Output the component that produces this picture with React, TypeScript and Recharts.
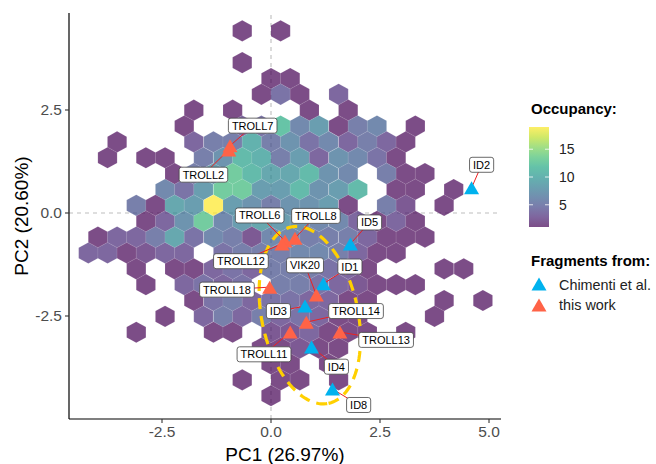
import React from 'react';
import { ScatterChart, Scatter, XAxis, YAxis, ReferenceLine } from 'recharts';

// ---------------- data ----------------
// hexbin cells (occupancy counts), one entry per hex row
const hexRowY = [4.42, 3.65, 3.265, 2.88, 2.495, 2.11, 1.725, 1.34, 0.955, 0.57, 0.185, -0.2, -0.585, -0.97, -1.355, -1.74, -2.125, -2.51, -2.895, -3.28, -3.665, -4.05, -4.435];
const hexRowX = [
  [-0.66, 0.22],
  [-0.66],
  [0.0, 0.44],
  [-0.22, 0.22, 0.66, 1.55],
  [-1.77, -0.88, 0.88, 1.77],
  [-1.99, -0.66, -0.22, 0.22, 0.66, 1.1, 1.55, 1.99, 2.43, 3.31],
  [-3.53, -1.77, -1.32, -0.88, -0.44, 0.0, 0.44, 0.88, 1.32, 1.77, 2.21, 2.65, 3.09],
  [-3.75, -2.87, -2.43, -1.55, -1.1, -0.66, -0.22, 0.22, 0.66, 1.1, 1.55, 1.99, 2.43, 2.87],
  [-2.21, -1.77, -1.32, -0.88, -0.44, 0.0, 0.44, 0.88, 1.32, 1.77, 2.65, 3.09, 3.53],
  [-2.43, -1.99, -1.55, -1.1, -0.66, -0.22, 0.22, 0.66, 1.1, 1.55, 1.99, 2.87, 3.31, 4.19],
  [-3.09, -2.65, -2.21, -1.77, -1.32, -0.88, -0.44, 0.0, 0.44, 0.88, 1.32, 1.77, 2.65, 3.09, 3.97],
  [-2.87, -2.43, -1.99, -1.55, -1.1, -0.66, -0.22, 0.22, 0.66, 1.1, 1.55, 1.99, 2.43, 2.87, 3.31],
  [-3.97, -3.53, -3.09, -2.65, -2.21, -1.77, -1.32, -0.88, -0.44, 0.0, 0.44, 0.88, 1.32, 1.77, 2.21, 2.65, 3.09, 3.53],
  [-4.19, -3.75, -3.31, -2.87, -2.43, -1.99, -1.1, -0.66, -0.22, 0.22, 0.66, 1.1, 1.55, 1.99, 2.43, 2.87],
  [-3.09, -2.21, -1.77, -1.32, -0.88, -0.44, 0.0, 0.44, 0.88, 1.32, 1.77, 2.21, 3.97, 4.42],
  [-2.87, -1.99, -1.55, -1.1, -0.66, 0.22, 0.66, 1.1, 1.55, 1.99, 2.43, 2.87, 3.31],
  [-1.77, -1.32, -0.88, -0.44, 0.0, 0.44, 0.88, 1.32, 1.77, 2.21, 3.97, 4.86],
  [-2.43, -1.55, -1.1, -0.66, -0.22, 0.22, 0.66, 1.1, 1.55, 1.99, 3.75],
  [-3.09, -1.32, -0.88, 0.0, 0.44, 0.88, 1.32, 1.77, 2.21, 3.09],
  [-0.22, 0.22, 0.66, 1.1, 1.55],
  [0.0, 0.44, 1.32],
  [-0.66, 0.22, 0.66, 1.55],
  [0.0],
];
const hexRowCount = [
  [1, 1],
  [1],
  [1, 1],
  [1, 4, 1, 3],
  [1, 1, 1, 1],
  [1, 3, 4, 12, 6, 8, 1, 5, 6, 1],
  [1, 3, 5, 5, 10, 5, 7, 4, 6, 3, 5, 3, 1],
  [1, 1, 1, 5, 7, 11, 10, 5, 8, 3, 7, 6, 4, 1],
  [1, 5, 8, 13, 11, 9, 9, 11, 7, 6, 5, 1, 1],
  [6, 4, 8, 13, 13, 8, 8, 11, 7, 8, 11, 1, 1, 1],
  [5, 1, 9, 8, 19, 8, 7, 5, 7, 7, 8, 1, 5, 2, 1],
  [1, 3, 7, 13, 6, 8, 9, 8, 7, 6, 6, 3, 1, 3, 1],
  [1, 3, 3, 5, 9, 4, 6, 5, 2, 6, 6, 5, 5, 5, 3, 1, 1, 1],
  [3, 3, 1, 2, 3, 3, 4, 5, 5, 5, 6, 6, 5, 3, 1, 1],
  [1, 1, 1, 3, 4, 3, 5, 5, 5, 4, 3, 1, 1, 1],
  [1, 3, 4, 3, 4, 5, 5, 4, 3, 2, 1, 1, 1],
  [1, 4, 5, 3, 4, 4, 3, 3, 1, 1, 1, 1],
  [1, 3, 5, 3, 5, 3, 4, 3, 1, 1, 1],
  [1, 1, 1, 2, 2, 3, 1, 1, 1, 1],
  [1, 1, 2, 1, 1],
  [1, 1, 1],
  [1, 1, 1, 1],
  [1],
];

// fragments from Chimenti et al.
const chimentiNames = ['ID2', 'ID5', 'ID1', 'ID3', 'ID4', 'ID8'];
const chimentiX = [4.6, 1.82, 1.2, 0.78, 0.93, 1.41];
const chimentiY = [0.61, -0.75, -1.72, -2.26, -3.25, -4.27];
const chimentiLabelX = [4.83, 2.26, 1.81, 0.17, 1.5, 2.01];
const chimentiLabelY = [1.17, -0.23, -1.3, -2.38, -3.73, -4.66];

// fragments from this work
const thisWorkNames = ['TROLL7', 'TROLL2', 'TROLL6', 'TROLL8', 'TROLL12', 'VIK20', 'TROLL18', 'TROLL14', 'TROLL11', 'TROLL13'];
const thisWorkX = [-0.94, -0.97, 0.32, 0.55, 0.25, 1.04, -0.03, 0.81, 0.44, 1.58];
const thisWorkY = [1.63, 1.53, -0.68, -0.61, -0.75, -1.99, -1.8, -2.65, -2.89, -2.89];
const thisWorkLabelX = [-0.42, -1.55, -0.26, 1.03, -0.69, 0.78, -1.01, 1.95, -0.16, 2.64];
const thisWorkLabelY = [2.12, 0.93, -0.06, -0.07, -1.17, -1.27, -1.86, -2.38, -3.43, -3.08];

// confidence ellipse (centre and two semi-axis vectors, data units)
const ellipseCenter = { x: 0.89, y: -2.48 };
const ellipseAxisA = { x: 0.43, y: -2.14 };
const ellipseAxisB = { x: 1.08, y: 0.24 };

const xTicks = [-2.5, 0, 2.5, 5];
const yTicks = [-2.5, 0, 2.5];
const colorbarTicks = [5, 10, 15];

// ---------------- layout / style ----------------
const W = 656;
const H = 464;
const MARGIN = { top: 13, right: 155, bottom: 0, left: 0 };
const Y_AXIS_W = 69;
const X_AXIS_H = 45;
const X_DOMAIN: [number, number] = [-4.633, 5.275];
const Y_DOMAIN: [number, number] = [-5.0, 4.854];
const PLOT_W = W - MARGIN.left - MARGIN.right - Y_AXIS_W;
const PLOT_H = H - MARGIN.top - MARGIN.bottom - X_AXIS_H;
const PX_X = PLOT_W / (X_DOMAIN[1] - X_DOMAIN[0]);
const PX_Y = PLOT_H / (Y_DOMAIN[1] - Y_DOMAIN[0]);
const BIN_W = 0.4415;
const BIN_H = 0.385;
const HEX_ALPHA = 0.7;
const FONT = '"Liberation Sans", Arial, Helvetica, sans-serif';
const BLUE = '#00B2EE';
const RED = '#FF6347';
const SEG = '#EE2020';
const GOLD = '#FFD000';

const VIRIDIS = ['#440154', '#482475', '#414487', '#355F8D', '#2A788E', '#21918C', '#22A884', '#44BF70', '#7AD151', '#BDDF26', '#FDE725'];

function hexToRgb(h: string) {
  const n = parseInt(h.slice(1), 16);
  return [(n >> 16) & 255, (n >> 8) & 255, n & 255];
}
function viridis(t: number) {
  const tt = Math.max(0, Math.min(1, t));
  const p = tt * 10;
  const i = Math.min(9, Math.floor(p));
  const f = p - i;
  const a = hexToRgb(VIRIDIS[i]);
  const b = hexToRgb(VIRIDIS[i + 1]);
  const c = a.map((v, k) => Math.round(v + (b[k] - v) * f));
  return `rgb(${c[0]},${c[1]},${c[2]})`;
}

// build tables
const hexData: { x: number; y: number; n: number }[] = [];
hexRowY.forEach((y, r) => {
  hexRowX[r].forEach((x, i) => hexData.push({ x, y, n: hexRowCount[r][i] }));
});
const allCounts = hexData.map((d) => d.n);
const COUNT_MIN = Math.min(...allCounts);
const COUNT_MAX = Math.max(...allCounts);

const chimentiData = chimentiNames.map((name, i) => ({ name, x: chimentiX[i], y: chimentiY[i] }));
const thisWorkData = thisWorkNames.map((name, i) => ({ name, x: thisWorkX[i], y: thisWorkY[i] }));
const labelData = [
  ...chimentiNames.map((name, i) => ({ name, x: chimentiLabelX[i], y: chimentiLabelY[i], tx: chimentiX[i], ty: chimentiY[i] })),
  ...thisWorkNames.map((name, i) => ({ name, x: thisWorkLabelX[i], y: thisWorkLabelY[i], tx: thisWorkX[i], ty: thisWorkY[i] })),
];
const ellipseData = [{ x: ellipseCenter.x, y: ellipseCenter.y }];

// ---------------- shapes ----------------
const HexShape = (props: any) => {
  const { cx, cy, payload } = props;
  if (cx == null || cy == null) return null;
  const dx = (BIN_W / 2) * PX_X;
  const dy = (BIN_H / 3) * PX_Y;
  const pts = [
    [cx + dx, cy - dy], [cx + dx, cy + dy], [cx, cy + 2 * dy],
    [cx - dx, cy + dy], [cx - dx, cy - dy], [cx, cy - 2 * dy],
  ].map((p) => p.join(',')).join(' ');
  const t = (payload.n - COUNT_MIN) / (COUNT_MAX - COUNT_MIN);
  return <polygon points={pts} fill={viridis(t)} fillOpacity={HEX_ALPHA} stroke="#ffffff" strokeWidth={0.25} strokeOpacity={0.35} />;
};

const EllipseShape = (props: any) => {
  const { cx, cy } = props;
  if (cx == null || cy == null) return null;
  const n = 120;
  let d = '';
  for (let i = 0; i <= n; i++) {
    const a = (i / n) * Math.PI * 2;
    const ex = ellipseAxisA.x * Math.cos(a) + ellipseAxisB.x * Math.sin(a);
    const ey = ellipseAxisA.y * Math.cos(a) + ellipseAxisB.y * Math.sin(a);
    d += `${i === 0 ? 'M' : 'L'}${(cx + ex * PX_X).toFixed(2)},${(cy - ey * PX_Y).toFixed(2)}`;
  }
  return <path d={d} fill="none" stroke={GOLD} strokeWidth={3.2} strokeDasharray="11 7" />;
};

const makeTriangle = (color: string) => (props: any) => {
  const { cx, cy } = props;
  if (cx == null || cy == null) return null;
  const hw = 7.5;
  const hh = 6.5;
  return <polygon points={`${cx},${cy - hh} ${cx + hw},${cy + hh} ${cx - hw},${cy + hh}`} fill={color} />;
};

const SegmentShape = (props: any) => {
  const { cx, cy, payload } = props;
  if (cx == null || cy == null) return null;
  const x2 = cx + (payload.tx - payload.x) * PX_X;
  const y2 = cy - (payload.ty - payload.y) * PX_Y;
  return <line x1={cx} y1={cy} x2={x2} y2={y2} stroke={SEG} strokeWidth={1} />;
};

let measureCtx: CanvasRenderingContext2D | null = null;
function textWidth(s: string, size: number) {
  try {
    if (!measureCtx) measureCtx = document.createElement('canvas').getContext('2d');
    if (measureCtx) {
      measureCtx.font = `${size}px "Liberation Sans", Arial, sans-serif`;
      return measureCtx.measureText(s).width;
    }
  } catch (e) {
    /* ignore */
  }
  return s.length * size * 0.62;
}

const LabelShape = (props: any) => {
  const { cx, cy, payload } = props;
  if (cx == null || cy == null) return null;
  const fs = 11;
  const w = textWidth(payload.name, fs) + 7;
  const h = 15;
  return (
    <g>
      <rect x={cx - w / 2} y={cy - h / 2} width={w} height={h} rx={2.5} ry={2.5} fill="#ffffff" stroke="#444444" strokeWidth={0.8} />
      <text x={cx} y={cy + 4} textAnchor="middle" fontSize={fs} fontFamily={FONT} fill="#000000">
        {payload.name}
      </text>
    </g>
  );
};

// ---------------- legend ----------------
const LegendOverlay = () => {
  const barX = 529;
  const barY = 127;
  const barW = 20;
  const barH = 100;
  const yOf = (v: number) => barY + barH - ((v - COUNT_MIN) / (COUNT_MAX - COUNT_MIN)) * barH;
  const tri = (x: number, y: number, c: string) => (
    <polygon points={`${x},${y - 6.5} ${x + 7.5},${y + 6.5} ${x - 7.5},${y + 6.5}`} fill={c} />
  );
  return (
    <svg width={W} height={H} style={{ position: 'absolute', left: 0, top: 0, pointerEvents: 'none' }}>
      <defs>
        <linearGradient id="viridisBar" x1="0" y1="1" x2="0" y2="0">
          {VIRIDIS.map((c, i) => (
            <stop key={i} offset={i / 10} stopColor={c} stopOpacity={HEX_ALPHA} />
          ))}
        </linearGradient>
      </defs>
      <text x={531} y={114} fontFamily={FONT} fontWeight="bold" fontSize={15} fill="#000">Occupancy:</text>
      <rect x={barX} y={barY} width={barW} height={barH} fill="url(#viridisBar)" />
      {colorbarTicks.map((v) => (
        <g key={v}>
          <line x1={barX} x2={barX + 4} y1={yOf(v)} y2={yOf(v)} stroke="#fff" strokeWidth={0.8} />
          <line x1={barX + barW - 4} x2={barX + barW} y1={yOf(v)} y2={yOf(v)} stroke="#fff" strokeWidth={0.8} />
          <text x={559} y={yOf(v) + 5} fontFamily={FONT} fontSize={14} fill="#222">{v}</text>
        </g>
      ))}
      <text x={531} y={266} fontFamily={FONT} fontWeight="bold" fontSize={15} fill="#000">Fragments from:</text>
      {tri(539, 284, BLUE)}
      <text x={559} y={289.5} fontFamily={FONT} fontSize={14.4} fill="#222">Chimenti et al.</text>
      {tri(539, 305, RED)}
      <text x={559} y={310} fontFamily={FONT} fontSize={14.4} fill="#222">this work</text>
    </svg>
  );
};

export default function App() {
  return (
    <div style={{ position: 'absolute', left: 0, top: 0, width: W, height: H, background: '#fff' }}>
      <ScatterChart width={W} height={H} margin={MARGIN}>
        <XAxis
          type="number"
          dataKey="x"
          domain={X_DOMAIN}
          ticks={xTicks}
          allowDataOverflow
          height={X_AXIS_H}
          tickSize={4}
          tickMargin={3}
          tickFormatter={(v: number) => v.toFixed(1)}
          axisLine={{ stroke: '#000', strokeWidth: 1.2 }}
          tickLine={{ stroke: '#333', strokeWidth: 1.1 }}
          tick={{ fill: '#4D4D4D', fontSize: 15.5, fontFamily: FONT }}
          label={{ value: 'PC1 (26.97%)', position: 'insideBottom', offset: 3, fill: '#000', fontSize: 19, fontFamily: FONT }}
        />
        <YAxis
          type="number"
          dataKey="y"
          domain={Y_DOMAIN}
          ticks={yTicks}
          allowDataOverflow
          width={Y_AXIS_W}
          tickSize={4}
          tickMargin={3}
          tickFormatter={(v: number) => v.toFixed(1)}
          axisLine={{ stroke: '#000', strokeWidth: 1.2 }}
          tickLine={{ stroke: '#333', strokeWidth: 1.1 }}
          tick={{ fill: '#4D4D4D', fontSize: 15.5, fontFamily: FONT }}
          label={{ value: 'PC2 (20.60%)', angle: -90, position: 'insideLeft', offset: 21, fill: '#000', fontSize: 19, fontFamily: FONT, style: { textAnchor: 'middle' } }}
        />
        <Scatter data={hexData} shape={HexShape} isAnimationActive={false} />
        <ReferenceLine x={0} stroke="#BEBEBE" strokeWidth={1.1} strokeDasharray="4 4" />
        <ReferenceLine y={0} stroke="#BEBEBE" strokeWidth={1.1} strokeDasharray="4 4" />
        <Scatter data={ellipseData} shape={EllipseShape} isAnimationActive={false} />
        <Scatter data={labelData} shape={SegmentShape} isAnimationActive={false} />
        <Scatter name="Chimenti et al." data={chimentiData} shape={makeTriangle(BLUE)} isAnimationActive={false} />
        <Scatter name="this work" data={thisWorkData} shape={makeTriangle(RED)} isAnimationActive={false} />
        <Scatter data={labelData} shape={LabelShape} isAnimationActive={false} />
      </ScatterChart>
      <LegendOverlay />
    </div>
  );
}
